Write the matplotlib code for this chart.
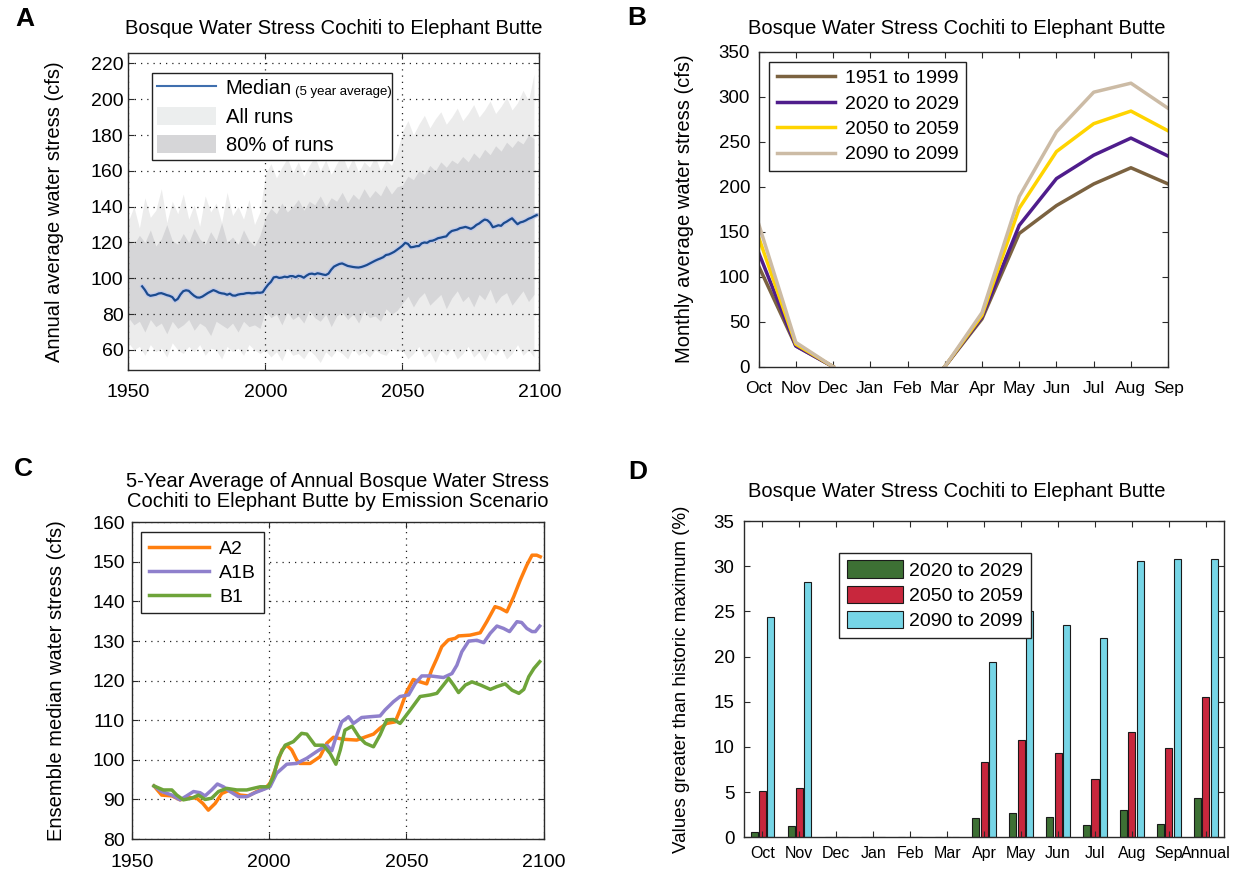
import numpy as np
import matplotlib
matplotlib.use('Agg')
import matplotlib.pyplot as plt
from matplotlib.lines import Line2D
from matplotlib.patches import Patch

plt.rcParams['font.family'] = ['Liberation Sans', 'DejaVu Sans']
plt.rcParams['xtick.direction'] = 'in'
plt.rcParams['ytick.direction'] = 'in'
plt.rcParams['axes.edgecolor'] = '#2a2a2a'

TITLE = 'Bosque Water Stress Cochiti to Elephant Butte'

# ---- panel A: ensemble spread (2-year steps) and 5-year median ----
band_years = np.arange(1950, 2100, 2)
all_hi = [132, 140, 128, 145, 134, 138, 150, 131, 143, 136, 147, 133, 141, 129, 146, 137, 142, 131, 148, 135, 140, 133, 144, 130, 137,
          158, 164, 156, 162, 167, 159, 165, 157, 163, 168, 160, 166, 158, 164, 169, 161, 167, 159, 165, 162, 168, 160, 166, 163, 170,
          182, 188, 180, 186, 191, 184, 189, 193, 186, 190, 195, 188, 192, 197, 190, 194, 199, 192, 196, 201, 194, 198, 205, 199, 214]
p90 = [121, 119, 124, 120, 127, 118, 122, 130, 121, 119, 125, 120, 128, 122, 119, 126, 121, 131, 120, 123, 119, 127, 121, 118, 124,
       134, 139, 136, 142, 137, 140, 144, 138, 143, 141, 146, 140, 145, 143, 148, 142, 147, 144, 150, 145, 149, 146, 152, 147, 151,
       152, 157, 155, 160, 158, 163, 160, 165, 162, 166, 164, 168, 165, 170, 167, 172, 169, 174, 171, 176, 173, 177, 175, 180, 178]
p10 = [78, 74, 76, 70, 77, 73, 75, 69, 76, 72, 74, 77, 71, 75, 73, 68, 76, 74, 72, 75, 70, 76, 73, 74, 72,
       82, 78, 80, 74, 81, 77, 79, 75, 82, 78, 76, 80, 73, 79, 81, 77, 80, 75, 82, 78, 79, 76, 83, 80, 82,
       86, 90, 84, 89, 92, 85, 88, 91, 83, 89, 93, 87, 90, 84, 91, 88, 94, 86, 90, 92, 85, 89, 93, 87, 91]
all_lo = [64, 60, 62, 57, 63, 59, 61, 56, 64, 60, 58, 62, 59, 63, 57, 61, 60, 55, 62, 59, 61, 57, 63, 60, 58,
          60, 56, 59, 54, 61, 57, 58, 55, 60, 57, 53, 59, 56, 60, 58, 55, 61, 57, 59, 56, 60, 58, 57, 61, 59,
          60, 55, 58, 62, 56, 59, 53, 60, 57, 61, 55, 58, 62, 56, 59, 54, 60, 57, 61, 55, 58, 63, 57, 60, 56]

median_years = np.arange(1955, 2100)
median = [95.5, 93.5, 91.0, 90.2, 90.5, 90.8, 91.5, 91.7, 91.2, 90.6,
          90.2, 89.5, 87.5, 88.5, 91.0, 92.8, 93.3, 93.0, 91.5, 90.2,
          89.3, 89.2, 89.8, 90.8, 91.8, 92.6, 93.4, 92.8, 92.0, 91.6,
          91.4, 90.8, 91.4, 90.4, 90.3, 90.9, 91.2, 91.3, 91.7, 91.8,
          91.6, 91.7, 92.0, 91.9, 92.2, 94.5, 96.5, 98.0, 100.5, 100.8,
          100.2, 100.4, 100.9, 100.6, 101.2, 101.2, 100.6, 101.4, 101.1, 100.3,
          101.5, 102.4, 102.6, 102.2, 102.8, 102.5, 102.1, 101.8, 102.6, 104.8,
          106.5, 107.3, 108.0, 108.3, 107.6, 106.9, 106.6, 106.3, 106.1, 106.0,
          106.3, 106.8, 107.4, 108.2, 109.0, 109.8, 110.5, 111.1, 111.8, 113.0,
          113.3, 114.0, 114.8, 115.9, 117.0, 118.2, 119.8, 119.2, 117.3, 117.5,
          117.9, 118.0, 119.5, 120.0, 119.8, 120.8, 121.0, 121.6, 122.4, 122.7,
          123.1, 123.4, 125.2, 126.4, 126.8, 127.2, 128.0, 128.3, 128.7, 128.2,
          127.6, 128.5, 129.8, 130.6, 131.8, 132.8, 132.4, 131.0, 128.5, 129.0,
          129.6, 129.3, 130.8, 131.6, 132.6, 133.5, 131.8, 130.2, 131.2, 131.6,
          132.3, 133.2, 133.8, 134.6, 135.3]

# ---- panel B: monthly means by period ----
months = ['Oct', 'Nov', 'Dec', 'Jan', 'Feb', 'Mar', 'Apr', 'May', 'Jun', 'Jul', 'Aug', 'Sep']
periods = ['1951 to 1999', '2020 to 2029', '2050 to 2059', '2090 to 2099']
period_colors = ['#7b6240', '#4f1d8c', '#ffd400', '#ccbba5']
nan = np.nan
monthly = [
    [112, 23, 0, nan, nan, 0, 53, 148, 179, 203, 221, 203],
    [127, 23, 0, nan, nan, 0, 55, 157, 209, 235, 254, 234],
    [144, 25, 0, nan, nan, 0, 57, 176, 239, 270, 284, 262],
    [159, 27, 0, nan, nan, 0, 60, 189, 261, 305, 315, 287],
]

# ---- panel C: ensemble median by emission scenario ----
a2_years = [1958, 1960.8, 1964.5, 1967.5, 1970.5, 1973.6, 1975.8, 1977.8, 1980.3, 1982.7, 1985.7, 1989.4, 1992.4,
            1995.4, 1998.5, 2000.3, 2002.1, 2004.6, 2006.4, 2008.2, 2010, 2011.2, 2014.9, 2018.5, 2021, 2023.4,
            2027, 2031.9, 2035.5, 2038, 2040.4, 2042.8, 2045.9, 2047.7, 2050.1, 2052.5, 2055, 2057.4, 2059.2,
            2061.1, 2062.9, 2065.3, 2067.8, 2069, 2073.2, 2076.9, 2079.3, 2082.3, 2084.2, 2086.6, 2089.1, 2091.5,
            2093.9, 2095.8, 2097.5, 2098.8]
a2_vals = [93.4, 91.1, 90.9, 89.9, 90.5, 90.3, 89.0, 87.3, 89.0, 91.5, 92.4, 91.1, 90.9,
           92.0, 92.8, 94.1, 97.4, 102.5, 103.7, 102.5, 100.0, 99.1, 99.1, 100.8, 104.2, 105.7,
           105.2, 105.0, 105.9, 106.5, 108.0, 109.2, 109.6, 112.6, 117.2, 120.3, 119.7, 119.2, 122.7,
           125.6, 128.6, 130.3, 130.7, 131.3, 131.5, 132.1, 134.9, 138.7, 138.3, 137.4, 141.2, 145.4,
           149.2, 151.7, 151.7, 151.3]
a1b_years = [1958, 1960.8, 1964.5, 1967.5, 1969.9, 1972.4, 1974.8, 1976.6, 1979, 1981.1, 1983.3, 1985.7, 1988.8,
             1991.8, 1994.8, 1997.8, 2000.3, 2002.7, 2006.4, 2010, 2013.7, 2017.3, 2021, 2022.8, 2024, 2026.4,
             2028.9, 2030.7, 2033.7, 2036.8, 2040.4, 2042.2, 2045.3, 2047.7, 2050.8, 2053.2, 2055.6, 2058.7,
             2063.5, 2066.6, 2068.4, 2070.2, 2072.7, 2075.7, 2078.2, 2080.6, 2083, 2085.4, 2087.6, 2090.3,
             2092, 2093.9, 2095.8, 2097, 2098.6]
a1b_vals = [93.4, 92.0, 91.1, 89.9, 90.9, 92.0, 91.7, 90.9, 92.4, 93.9, 93.2, 92.0, 90.7,
            90.7, 91.7, 92.5, 93.2, 96.6, 98.9, 99.1, 100.4, 102.1, 103.7, 102.3, 105.0, 109.6,
            110.9, 109.2, 110.7, 110.9, 111.1, 112.6, 114.7, 116.0, 116.4, 119.3, 121.2, 121.2,
            120.8, 121.8, 123.9, 127.3, 130.0, 130.2, 129.6, 132.0, 133.8, 133.2, 132.4, 134.9,
            134.7, 133.2, 132.4, 132.4, 133.8]
b1_years = [1958, 1961.4, 1964.5, 1966.3, 1968.7, 1971.7, 1974.2, 1976.6, 1979, 1981.5, 1984.5, 1988.2, 1991.8,
            1994.2, 1996.7, 1999.7, 2001.5, 2003.3, 2005.8, 2008.8, 2011.8, 2013.7, 2016.7, 2019.7, 2022.2,
            2024.3, 2025.9, 2027.6, 2030.2, 2032.6, 2035, 2038, 2040.4, 2042.8, 2045.3, 2047.7, 2051.4, 2055,
            2058.7, 2061.1, 2063.5, 2065.4, 2067.2, 2069, 2071.5, 2073.9, 2077, 2080.6, 2083, 2086, 2088.5,
            2091, 2092.8, 2094.6, 2096.5, 2098.6]
b1_vals = [93.4, 92.4, 92.4, 91.1, 89.9, 90.3, 91.1, 90.0, 90.3, 92.0, 92.8, 92.4, 92.4,
           92.8, 93.2, 93.2, 95.7, 100.4, 103.7, 104.6, 106.7, 106.5, 103.7, 103.7, 101.6,
           98.9, 102.5, 107.5, 108.5, 105.9, 104.2, 103.3, 106.3, 110.1, 110.2, 109.2, 112.6, 116.0,
           116.4, 116.8, 118.9, 120.6, 118.9, 117.0, 118.9, 119.7, 118.9, 117.8, 118.5, 119.2, 117.6,
           116.8, 117.8, 121.0, 123.1, 124.8]

# ---- panel D: share of values above the historic maximum ----
bar_labels = ['Oct', 'Nov', 'Dec', 'Jan', 'Feb', 'Mar', 'Apr', 'May', 'Jun', 'Jul', 'Aug', 'Sep', 'Annual']
bar_periods = ['2020 to 2029', '2050 to 2059', '2090 to 2099']
bar_colors = ['#3d7034', '#c8273d', '#76d5e6']
pct_2020s = [0.6, 1.2, 0, 0, 0, 0, 2.1, 2.7, 2.3, 1.4, 3.0, 1.5, 4.4]
pct_2050s = [5.1, 5.5, 0, 0, 0, 0, 8.3, 10.8, 9.3, 6.5, 11.6, 9.9, 15.5]
pct_2090s = [24.4, 28.3, 0, 0, 0, 0, 19.4, 25.0, 23.5, 22.1, 30.6, 30.8, 30.8]

fig = plt.figure(figsize=(12.47, 8.73), dpi=100)

def style(ax, tick_size=13.5):
    ax.tick_params(top=True, right=True, length=4, width=0.8, labelsize=tick_size, color='#2a2a2a')
    for s in ax.spines.values():
        s.set_linewidth(1.0)

def legend(ax, handles, labels, **kw):
    leg = ax.legend(handles, labels, fancybox=False, framealpha=1, edgecolor='#222222',
                    borderaxespad=0, **kw)
    leg.get_frame().set_linewidth(1.0)
    return leg

dots = (0, (1, 4))

# A
ax = fig.add_axes([0.1030, 0.5762, 0.3296, 0.3627])
ax.fill_between(band_years, all_lo, all_hi, color='#ececec', lw=0)
ax.fill_between(band_years, p10, p90, color='#d6d6d8', lw=0)
ax.plot(median_years, median, color='#c3cbe8', lw=3.5, solid_capstyle='round')
ax.plot(median_years, median, color='#1b4b8e', lw=1.6)
ax.set_xlim(1950, 2100)
ax.set_ylim(48.8, 225.6)
ax.set_xticks([1950, 2000, 2050, 2100])
ax.set_yticks(range(60, 221, 20))
ax.grid(True, color='#222222', ls=dots, lw=0.9)
style(ax, 14)
ax.tick_params(axis='x', pad=10)
ax.set_ylabel('Annual average water stress (cfs)', fontsize=14.5)
ax.yaxis.set_label_coords(-0.156, 0.5)
ax.set_title(TITLE, fontsize=14.5, pad=14)
leg = legend(ax, [Line2D([], [], color='#3f6fae', lw=1.5),
                  Patch(fc='#eceeee', ec='none'), Patch(fc='#d6d6d8', ec='none')],
             ['Median', 'All runs', '80% of runs'],
             loc='upper left', bbox_to_anchor=(0.058, 0.672, 0.584, 0.265), mode='expand',
             fontsize=14.5, handlelength=2.9, handleheight=1.0, labelspacing=0.42,
             borderpad=0.25, handletextpad=0.5)
ax.annotate('(5 year average)', xy=(1, 0), xycoords=leg.get_texts()[0], xytext=(2, 0),
            textcoords='offset points', fontsize=9.5, va='bottom', ha='left', zorder=6)
fig.text(25 / 1247, 1 - 19 / 873, 'A', fontsize=19, fontweight='bold', ha='center', va='center')

# B
ax = fig.add_axes([0.6083, 0.5800, 0.3285, 0.3608])
x = np.arange(1, 13)
for vals, c, lab in zip(monthly, period_colors, periods):
    ax.plot(x, vals, color=c, lw=2.5, label=lab)
ax.set_xlim(1, 12)
ax.set_ylim(0, 350)
ax.set_xticks(x)
ax.set_xticklabels(months)
ax.set_yticks(range(0, 351, 50))
style(ax)
ax.tick_params(axis='x', labelsize=12.5, pad=10)
ax.tick_params(axis='y', pad=6)
ax.set_ylabel('Monthly average water stress (cfs)', fontsize=14.5)
ax.yaxis.set_label_coords(-0.158, 0.5)
ax.set_title(TITLE, fontsize=14.5, pad=13, x=0.485)
h, l = ax.get_legend_handles_labels()
legend(ax, h, l, loc='upper left', bbox_to_anchor=(0.025, 0.968), fontsize=14,
       handlelength=3.0, labelspacing=0.4, handletextpad=0.5)
fig.text(637 / 1247, 1 - 18 / 873, 'B', fontsize=19, fontweight='bold', ha='center', va='center')

# C
ax = fig.add_axes([0.1059, 0.0389, 0.3300, 0.3628])
ax.plot(a2_years, a2_vals, color='#ff7f0f', lw=2.5, label='A2')
ax.plot(a1b_years, a1b_vals, color='#8f80cc', lw=2.5, label='A1B')
ax.plot(b1_years, b1_vals, color='#6ea43a', lw=2.5, label='B1')
ax.set_xlim(1950, 2100)
ax.set_ylim(80, 160)
ax.set_xticks([1950, 2000, 2050, 2100])
ax.set_yticks(range(80, 161, 10))
ax.grid(True, color='#222222', ls=dots, lw=0.9)
style(ax, 14)
ax.tick_params(axis='x', pad=11)
ax.tick_params(axis='y', pad=5)
ax.set_ylabel('Ensemble median water stress (cfs)', fontsize=14.5)
ax.yaxis.set_label_coords(-0.160, 0.5)
ax.set_title('5-Year Average of Annual Bosque Water Stress\n'
             'Cochiti to Elephant Butte by Emission Scenario', fontsize=14.5, pad=11, linespacing=1.05)
h, l = ax.get_legend_handles_labels()
legend(ax, h, l, loc='upper left', bbox_to_anchor=(0.022, 0.968), fontsize=14,
       handlelength=3.1, labelspacing=0.32, handletextpad=0.5)
fig.text(23 / 1247, 1 - 469 / 873, 'C', fontsize=19, fontweight='bold', ha='center', va='center')

# D
ax = fig.add_axes([0.5964, 0.0409, 0.3855, 0.3623])
x = np.arange(1, 14)
for off, vals, c, lab in zip([-0.22, 0, 0.22], [pct_2020s, pct_2050s, pct_2090s], bar_colors, bar_periods):
    ax.bar(x + off, vals, width=0.19, color=c, edgecolor='#1a1a1a', lw=0.8, label=lab)
ax.set_xlim(0.5, 13.5)
ax.set_ylim(0, 35)
ax.set_xticks(x)
ax.set_xticklabels(bar_labels)
ax.set_yticks(range(0, 36, 5))
style(ax)
ax.tick_params(axis='x', labelsize=11.5, pad=6)
ax.tick_params(axis='y', pad=6.5)
ax.set_ylabel('Values greater than historic maximum (%)', fontsize=13.5)
ax.yaxis.set_label_coords(-0.112, 0.5)
ax.set_title(TITLE, fontsize=14.5, pad=17, x=0.444)
h, l = ax.get_legend_handles_labels()
legend(ax, h, l, loc='upper left', bbox_to_anchor=(0.198, 0.9), fontsize=14,
       handlelength=2.9, handleheight=1.0, labelspacing=0.3, handletextpad=0.3)
fig.text(638 / 1247, 1 - 472 / 873, 'D', fontsize=19, fontweight='bold', ha='center', va='center')

fig.savefig('out.png', dpi=100, facecolor='white')
